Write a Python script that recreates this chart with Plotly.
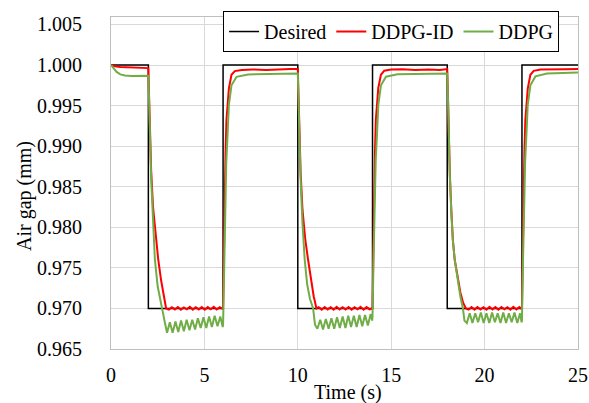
import plotly.graph_objects as go

# ---------------- data ----------------
t_desired = [0, 2, 6, 10, 14, 18, 22, 25]
y_desired = [1.000, 0.970, 1.000, 0.970, 1.000, 0.970, 1.000, 1.000]

t_ddpg_id = [
    0, 0.2, 0.5, 0.9, 1.3, 1.7, 2.0,
    2.04, 2.09, 2.15, 2.25, 2.38, 2.53, 2.68, 2.82, 2.95,
    3.1, 3.26, 3.42, 3.58, 3.74, 3.9, 4.06, 4.22, 4.38, 4.54, 4.7, 4.86, 5.02, 5.18, 5.34, 5.5, 5.66, 5.82, 5.98,
    6.0, 6.04, 6.08, 6.13, 6.18, 6.24, 6.31, 6.45, 6.63, 7.0, 7.6, 8.3, 9.0, 9.6, 10.0,
    10.04, 10.09, 10.15, 10.25, 10.4, 10.55, 10.7, 10.85, 11.0,
    11.12, 11.28, 11.44, 11.6, 11.76, 11.92, 12.08, 12.24, 12.4, 12.56, 12.72, 12.88, 13.04, 13.2, 13.36, 13.52, 13.68, 13.84, 13.98,
    14.0, 14.04, 14.08, 14.13, 14.18, 14.24, 14.31, 14.45, 14.63, 15.0, 15.6, 16.3, 17.0, 17.6, 18.0,
    18.04, 18.08, 18.14, 18.22, 18.3, 18.4, 18.55, 18.7, 18.85, 19.0,
    19.14, 19.3, 19.46, 19.62, 19.78, 19.94, 20.1, 20.26, 20.42, 20.58, 20.74, 20.9, 21.06, 21.22, 21.38, 21.54, 21.7, 21.86, 21.98,
    22.0, 22.04, 22.08, 22.13, 22.18, 22.24, 22.31, 22.45, 22.63, 23.0, 23.6, 24.3, 25.0,
]
y_ddpg_id = [
    1.0000, 0.99985, 0.99975, 0.99970, 0.99968, 0.99965, 0.99962,
    0.9960, 0.9910, 0.9870, 0.9825, 0.9790, 0.9760, 0.9735, 0.9715, 0.9700,
    0.96985, 0.97015, 0.96988, 0.97018, 0.96985, 0.97012, 0.96990, 0.97020, 0.96986, 0.97015, 0.96988, 0.97018, 0.96985, 0.97016, 0.96990, 0.97020, 0.96986, 0.97014, 0.96995,
    0.9700, 0.9760, 0.9830, 0.9890, 0.9932, 0.9950, 0.9971, 0.9988, 0.99925, 0.99940, 0.99945, 0.99938, 0.99948, 0.99950, 0.99950,
    0.9960, 0.9910, 0.9868, 0.9822, 0.9785, 0.9760, 0.9737, 0.9715, 0.9700,
    0.97015, 0.96985, 0.97018, 0.96988, 0.97015, 0.96985, 0.97020, 0.96988, 0.97015, 0.96986, 0.97018, 0.96985, 0.97015, 0.96990, 0.97020, 0.96985, 0.97016, 0.96988, 0.97000,
    0.9700, 0.9765, 0.9835, 0.9893, 0.9933, 0.9952, 0.9972, 0.9988, 0.99930, 0.99945, 0.99948, 0.99940, 0.99945, 0.99940, 0.99950,
    0.9960, 0.9915, 0.9865, 0.9820, 0.9785, 0.9760, 0.9738, 0.9720, 0.9707, 0.9700,
    0.96985, 0.97016, 0.96986, 0.97018, 0.96988, 0.97015, 0.96985, 0.97020, 0.96988, 0.97016, 0.96985, 0.97018, 0.96990, 0.97015, 0.96986, 0.97020, 0.96988, 0.97016, 0.96995,
    0.9700, 0.9762, 0.9832, 0.9891, 0.9932, 0.9951, 0.9971, 0.9988, 0.99928, 0.99945, 0.99950, 0.99948, 0.99950,
]

t_ddpg = [
    0, 0.15, 0.3, 0.5, 0.75, 1.1, 1.5, 2.0,
    2.04, 2.09, 2.15, 2.25, 2.35, 2.5, 2.63, 2.76, 2.88,
    3.0, 3.15, 3.3, 3.45, 3.6, 3.75, 3.9, 4.05, 4.2, 4.35, 4.5, 4.65, 4.8, 4.95, 5.1, 5.25, 5.4, 5.55, 5.7, 5.85, 5.98,
    6.0, 6.05, 6.1, 6.17, 6.24, 6.31, 6.45, 6.72, 7.34, 8.5, 9.3, 10.0,
    10.04, 10.09, 10.15, 10.25, 10.37, 10.5, 10.65, 10.82, 10.92,
    11.05, 11.2, 11.35, 11.5, 11.65, 11.8, 11.95, 12.1, 12.25, 12.4, 12.55, 12.7, 12.85, 13.0, 13.15, 13.3, 13.45, 13.6, 13.75, 13.9, 13.98,
    14.0, 14.05, 14.1, 14.17, 14.24, 14.31, 14.45, 14.72, 15.34, 16.5, 17.3, 18.0,
    18.04, 18.08, 18.14, 18.22, 18.3, 18.4, 18.55, 18.7, 18.84, 18.92,
    19.05, 19.2, 19.35, 19.5, 19.65, 19.8, 19.95, 20.1, 20.25, 20.4, 20.55, 20.7, 20.85, 21.0, 21.15, 21.3, 21.45, 21.6, 21.75, 21.9, 21.98,
    22.0, 22.05, 22.1, 22.17, 22.24, 22.31, 22.45, 22.72, 23.34, 24.2, 25.0,
]
y_ddpg = [
    1.0000, 0.99950, 0.99915, 0.99885, 0.99870, 0.99865, 0.99865, 0.99868,
    0.9955, 0.9905, 0.9860, 0.9810, 0.9760, 0.9727, 0.9710, 0.9697, 0.9683,
    0.9670, 0.9683, 0.9670, 0.9684, 0.9671, 0.9685, 0.9672, 0.9686, 0.9673, 0.9686, 0.9674, 0.9688, 0.9676, 0.9689, 0.9676, 0.9690, 0.9677, 0.9691, 0.9678, 0.9690, 0.9677,
    0.9680, 0.9750, 0.9820, 0.9880, 0.9914, 0.9951, 0.9975, 0.99855, 0.99884, 0.99890, 0.99893, 0.99895,
    0.9955, 0.9905, 0.9860, 0.9805, 0.9760, 0.9730, 0.9712, 0.9700, 0.9680,
    0.9675, 0.9686, 0.9674, 0.9687, 0.9675, 0.9688, 0.9675, 0.9689, 0.9676, 0.9690, 0.9676, 0.9691, 0.9677, 0.9691, 0.9677, 0.9692, 0.9678, 0.9692, 0.9679, 0.9693, 0.9685,
    0.9690, 0.9755, 0.9822, 0.9882, 0.9915, 0.9951, 0.9975, 0.99856, 0.99885, 0.99890, 0.99892, 0.99895,
    0.9958, 0.9912, 0.9862, 0.9818, 0.9784, 0.9760, 0.9735, 0.9715, 0.9700, 0.9685,
    0.9682, 0.9694, 0.9682, 0.9694, 0.9683, 0.9695, 0.9682, 0.9694, 0.9682, 0.9695, 0.9683, 0.9694, 0.9682, 0.9695, 0.9682, 0.9694, 0.9683, 0.9695, 0.9682, 0.9694, 0.9683,
    0.9685, 0.9752, 0.9821, 0.9881, 0.9915, 0.9951, 0.9975, 0.99860, 0.99895, 0.99905, 0.99908,
]

x_ticks = [0, 5, 10, 15, 20, 25]
y_ticks = [0.965, 0.970, 0.975, 0.980, 0.985, 0.990, 0.995, 1.000, 1.005]

# ---------------- figure ----------------
FONT = "Liberation Serif, Times New Roman, serif"
fig = go.Figure()
fig.add_trace(go.Scatter(x=t_desired, y=y_desired, mode="lines", name="Desired",
                         line=dict(color="black", width=1.5, shape="hv")))
fig.add_trace(go.Scatter(x=t_ddpg_id, y=y_ddpg_id, mode="lines", name="DDPG-ID",
                         line=dict(color="#FF0000", width=2)))
fig.add_trace(go.Scatter(x=t_ddpg, y=y_ddpg, mode="lines", name="DDPG",
                         line=dict(color="#70AD47", width=2)))

grid = "#D9D9D9"
fig.update_layout(
    width=589, height=403,
    margin=dict(l=111, r=11, t=17, b=54),
    paper_bgcolor="white", plot_bgcolor="white",
    font=dict(family=FONT, size=20, color="black"),
    showlegend=True,
    legend=dict(orientation="h", x=0.24, y=1.018, xanchor="left", yanchor="top",
                bgcolor="white", bordercolor="black", borderwidth=1,
                font=dict(family=FONT, size=20), itemwidth=30,
                tracegroupgap=0),
    xaxis=dict(range=[0, 25], tickvals=x_ticks, showgrid=True, gridcolor=grid, gridwidth=1,
               showline=True, linecolor="#BFBFBF", linewidth=1, mirror=True,
               zeroline=False, ticks="", ticklabelstandoff=8, automargin=False,
               tickfont=dict(family=FONT, size=20)),
    yaxis=dict(range=[0.965, 1.00592], tickvals=y_ticks, tickformat=".3f",
               showgrid=True, gridcolor=grid, gridwidth=1,
               showline=True, linecolor="#BFBFBF", linewidth=1, mirror=True,
               zeroline=False, ticks="", ticklabelstandoff=24, automargin=False,
               tickfont=dict(family=FONT, size=20)),
    annotations=[
        dict(text="Time (s)", xref="paper", yref="paper", x=(348 - 111) / 467, y=-(392 - 349) / 332,
             xanchor="center", yanchor="middle", showarrow=False, font=dict(family=FONT, size=20)),
        dict(text="Air gap (mm)", xref="paper", yref="paper", x=-(111 - 24) / 467, y=(349 - 196) / 332,
             xanchor="center", yanchor="middle", textangle=-90, showarrow=False,
             font=dict(family=FONT, size=20)),
    ],
)

fig.write_html("out.html")
